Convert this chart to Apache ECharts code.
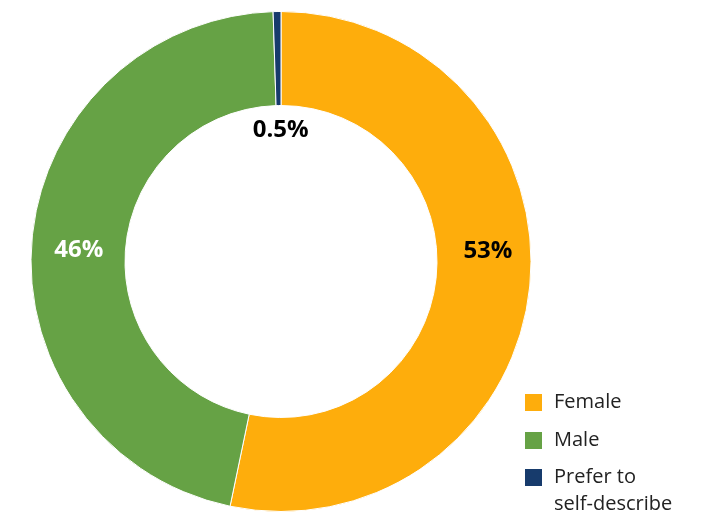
<!DOCTYPE html>
<html>
<head>
<meta charset="utf-8">
<script src="https://cdn.jsdelivr.net/npm/echarts@6/dist/echarts.min.js"></script>
<style>
  html, body { margin: 0; padding: 0; background: #ffffff; }
  #chart { width: 722px; height: 517px; }
</style>
</head>
<body>
<div id="chart"></div>
<script>
// Gender breakdown of respondents (percent)
const categories = ['Female', 'Male', 'Prefer to\nself-describe'];
const shares = [53, 46, 0.5];
const sliceColors = ['#FEAD0C', '#66A245', '#173B6C'];
const labelColors = ['#000000', '#ffffff', '#000000'];
// Per-slice nudges of the value labels away from the ring's midline
const labelNudge = [
  { dx: 2, dy: -31 },
  { dx: 3, dy: 7 },
  { dx: 3, dy: 75 }
];

const FONT = 'Open Sans';
const LEGEND_LINE = 27;

const chart = echarts.init(document.getElementById('chart'), null, { renderer: 'canvas' });

const seriesData = categories.map((name, i) => ({
  name: name,
  value: shares[i],
  itemStyle: { color: sliceColors[i] },
  label: { color: labelColors[i] }
}));

const legendText = {
  fontFamily: FONT,
  fontSize: 20,
  color: '#222222',
  lineHeight: LEGEND_LINE,
  padding: [0, 0, 0, 6]
};

const legendBase = {
  orient: 'vertical',
  left: 523,
  padding: 0,
  icon: 'rect',
  itemWidth: 19,
  itemHeight: 19,
  itemGap: 11,
  selectedMode: false,
  textStyle: legendText
};

chart.setOption({
  backgroundColor: '#ffffff',
  animation: false,
  legend: [
    Object.assign({}, legendBase, {
      top: 389,
      data: categories.slice(0, 2)
    }),
    // two-line entry: a blank leading line keeps the swatch level with "Prefer to"
    Object.assign({}, legendBase, {
      top: 437,
      formatter: name => '\u00a0\n' + name,
      data: categories.slice(2)
    })
  ],
  series: [{
    type: 'pie',
    center: [281, 261.5],
    radius: [156, 250],
    startAngle: 90,
    clockwise: true,
    avoidLabelOverlap: false,
    itemStyle: { borderColor: '#ffffff', borderWidth: 1 },
    label: {
      show: true,
      position: 'inside',
      formatter: p => p.value + '%',
      fontFamily: FONT,
      fontWeight: 'bold',
      fontSize: 24
    },
    labelLine: { show: false },
    labelLayout: p => labelNudge[p.dataIndex],
    emphasis: { disabled: true },
    data: seriesData
  }]
});
</script>
</body>
</html>
